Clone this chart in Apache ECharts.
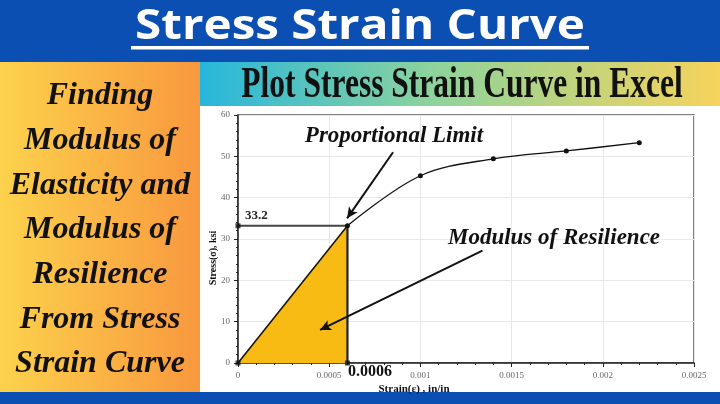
<!DOCTYPE html>
<html>
<head>
<meta charset="utf-8">
<script src="https://cdn.jsdelivr.net/npm/echarts@6/dist/echarts.min.js"></script>
<style>
html, body { margin: 0; padding: 0; }
#main { width: 720px; height: 404px; }
</style>
</head>
<body>
<div id="main"></div>
<script>
// 数据
var 应变 = [0, 0.0006, 0.001, 0.0014, 0.0018, 0.0022];
var 应力 = [0, 33.2, 45.3, 49.4, 51.3, 53.3];
var 比例极限应变 = 0.0006;
var 比例极限应力 = 33.2;
var x刻度 = ['0', '0.0005', '0.001', '0.0015', '0.002', '0.0025'];
var y刻度 = ['0', '10', '20', '30', '40', '50', '60'];
var 左侧文字 = ['Finding', 'Modulus of', 'Elasticity and', 'Modulus of', 'Resilience', 'From Stress', 'Strain Curve'];

var 弹性段 = [[应变[0], 应力[0]], [应变[1], 应力[1]]];
var 曲线段 = [];
for (var i = 1; i < 应变.length; i++) {
    曲线段.push([应变[i], 应力[i]]);
}

var myChart = echarts.init(document.getElementById('main'));

var 图形 = [
    // 顶部蓝条
    { type: 'rect', shape: { x: 0, y: 0, width: 720, height: 62 }, style: { fill: '#0b4fb3' }, z: -10 },
    {
        type: 'text', x: 360, y: 27, scaleX: 1.16, z: 100,
        style: { text: 'Stress Strain Curve', x: 0, y: 0, textAlign: 'center', textVerticalAlign: 'middle', font: 'bold 41px "Open Sans"', fill: '#ffffff' }
    },
    { type: 'rect', shape: { x: 131, y: 46, width: 458, height: 3.5 }, style: { fill: '#ffffff' }, z: 100 },
    // 左侧橙色面板
    {
        type: 'rect', shape: { x: 0, y: 62, width: 200, height: 330 }, z: -10,
        style: { fill: new echarts.graphic.LinearGradient(0, 0, 1, 0, [{ offset: 0, color: '#fdd24c' }, { offset: 1, color: '#f8983e' }]) }
    },
    // 副标题渐变条
    {
        type: 'rect', shape: { x: 200, y: 62, width: 520, height: 44 }, z: -10,
        style: { fill: new echarts.graphic.LinearGradient(0, 0, 1, 0, [{ offset: 0, color: '#27b6dc' }, { offset: 0.45, color: '#8ed39c' }, { offset: 1, color: '#f6d35c' }]) }
    },
    {
        type: 'text', x: 462, y: 85, scaleX: 0.7, z: 100,
        style: { text: 'Plot Stress Strain Curve in Excel', x: 0, y: 0, textAlign: 'center', textVerticalAlign: 'middle', font: 'bold 45px "Liberation Sans Narrow"', fill: '#111111' }
    },
    // 底部蓝条
    { type: 'rect', shape: { x: 0, y: 392, width: 720, height: 12 }, style: { fill: '#0b4fb3' }, z: -10 },
    // 注释文字
    { type: 'text', z: 100, style: { text: 'Proportional Limit', x: 394, y: 136, textAlign: 'center', textVerticalAlign: 'middle', font: 'italic bold 23px "Liberation Serif"', fill: '#111' } },
    { type: 'text', z: 100, style: { text: 'Modulus of Resilience', x: 554, y: 238, textAlign: 'center', textVerticalAlign: 'middle', font: 'italic bold 23px "Liberation Serif"', fill: '#111' } },
    { type: 'text', z: 100, style: { text: '33.2', x: 245, y: 216, textAlign: 'left', textVerticalAlign: 'middle', font: 'bold 13px "Liberation Serif"', fill: '#222' } },
    { type: 'text', z: 100, style: { text: '0.0006', x: 348, y: 372, textAlign: 'left', textVerticalAlign: 'middle', font: 'bold 16px "Liberation Serif"', fill: '#111' } },
    // 坐标轴名称
    { type: 'text', z: 100, style: { text: 'Strain(ε) , in/in', x: 414, y: 389, textAlign: 'center', textVerticalAlign: 'middle', font: 'bold 11px "Liberation Serif"', fill: '#111' } },
    { type: 'text', z: 100, x: 213, y: 258, rotation: Math.PI / 2, style: { text: 'Stress(σ), ksi', x: 0, y: 0, textAlign: 'center', textVerticalAlign: 'middle', font: 'bold 10px "Liberation Serif"', fill: '#111' } }
];
for (var k = 0; k < 左侧文字.length; k++) {
    图形.push({
        type: 'text', z: 100,
        style: { text: 左侧文字[k], x: 100, y: 96 + k * 44.7, textAlign: 'center', textVerticalAlign: 'middle', font: 'italic bold 32px "Liberation Serif"', fill: '#111' }
    });
}

var option = {
    backgroundColor: '#ffffff',
    animation: false,
    graphic: { elements: 图形 },
    grid: { left: 238, right: 26, top: 115, bottom: 41, show: true, borderColor: '#555', borderWidth: 1.5 },
    xAxis: {
        type: 'value', min: 0, max: 0.0025, interval: 0.0005,
        axisLine: { show: true, lineStyle: { color: '#222', width: 1.5 } },
        axisTick: { show: true, length: 4, lineStyle: { color: '#222' } },
        minorTick: { show: true, splitNumber: 5, length: 2, lineStyle: { color: '#222' } },
        splitLine: { show: true, lineStyle: { color: '#e8e8e8' } },
        axisLabel: {
            margin: 8, color: '#666', fontSize: 9, fontFamily: 'Liberation Serif',
            formatter: function (v) { return x刻度[Math.round(v / 0.0005)]; }
        }
    },
    yAxis: {
        type: 'value', min: 0, max: 60, interval: 10,
        axisLine: { show: true, lineStyle: { color: '#222', width: 1.5 } },
        axisTick: { show: true, length: 4, lineStyle: { color: '#222' } },
        minorTick: { show: true, splitNumber: 5, length: 2, lineStyle: { color: '#222' } },
        splitLine: { show: true, lineStyle: { color: '#e8e8e8' } },
        axisLabel: {
            margin: 8, color: '#666', fontSize: 9, fontFamily: 'Liberation Serif',
            formatter: function (v) { return y刻度[Math.round(v / 10)]; }
        }
    },
    series: [
        {
            name: '弹性段', type: 'line', data: 弹性段, symbol: 'none', z: 3,
            lineStyle: { color: '#111', width: 1.5 },
            areaStyle: { color: '#f7bb14', opacity: 1 }
        },
        {
            name: '竖线', type: 'line', data: [[比例极限应变, 0], [比例极限应变, 比例极限应力]], symbol: 'none', z: 4,
            lineStyle: { color: '#222', width: 2.2 }
        },
        {
            name: '水平线', type: 'line', data: [[0, 比例极限应力], [比例极限应变, 比例极限应力]], symbol: 'none', z: 4,
            lineStyle: { color: '#444', width: 2 }
        },
        {
            name: '曲线', type: 'line', data: 曲线段, smooth: 0.35, symbol: 'circle', symbolSize: 5, z: 5,
            lineStyle: { color: '#111', width: 1.3 },
            itemStyle: { color: '#111' },
            markLine: {
                silent: true, symbol: ['none', 'arrow'], symbolSize: [8, 11],
                label: { show: false },
                lineStyle: { color: '#111', width: 2, type: 'solid' },
                data: [
                    [{ coord: [0.00085, 51.0] }, { coord: [0.000598, 35.0] }],
                    [{ coord: [0.00134, 27.2] }, { coord: [0.00045, 8.0] }]
                ]
            }
        },
        {
            name: '标记', type: 'scatter', z: 6, symbol: 'rect', symbolSize: 5,
            itemStyle: { color: '#111' },
            data: [[0, 0], [0, 比例极限应力], [比例极限应变, 0]]
        }
    ]
};

myChart.setOption(option);
</script>
</body>
</html>
